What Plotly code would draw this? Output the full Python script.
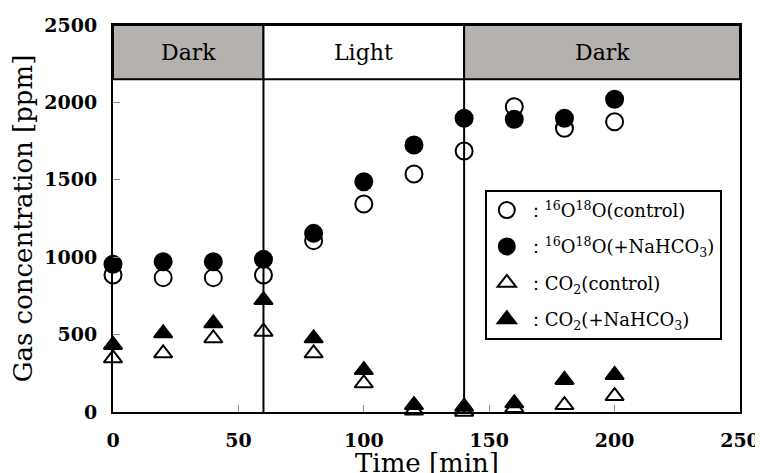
import plotly.graph_objects as go

time_min = [0, 20, 40, 60, 80, 100, 120, 140, 160, 180, 200]
o2_control = [885, 868, 868, 885, 1107, 1344, 1537, 1686, 1972, 1833, 1875]
o2_nahco3 = [954, 971, 971, 986, 1154, 1488, 1725, 1897, 1891, 1897, 2020]
co2_control = [347, 379, 476, 519, 379, 185, 10, 2, 26, 45, 103]
co2_nahco3 = [433, 508, 573, 723, 476, 271, 45, 34, 56, 207, 239]

phase_labels = ["Dark", "Light", "Dark"]
phase_starts = [0, 60, 140]
phase_ends = [60, 140, 250]
phase_fill = ["#b4b1af", "#ffffff", "#b4b1af"]

x_ticks = [0, 50, 100, 150, 200, 250]
y_ticks = [0, 500, 1000, 1500, 2000, 2500]

FONT = "DejaVu Serif"

fig = go.Figure()

series = [
    ("：<sup>16</sup>O<sup>18</sup>O(control)", o2_control, "circle-open"),
    ("：<sup>16</sup>O<sup>18</sup>O(+NaHCO<sub>3</sub>)", o2_nahco3, "circle"),
    ("：CO<sub>2</sub>(control)", co2_control, "triangle-up-open"),
    ("：CO<sub>2</sub>(+NaHCO<sub>3</sub>)", co2_nahco3, "triangle-up"),
]
for i, (name, vals, sym) in enumerate(series):
    fig.add_trace(go.Scatter(
        x=time_min, y=vals, mode="markers", name=name,
        legendgroup=f"g{i}", cliponaxis=False,
        marker=dict(symbol=sym, size=17 if "circle" in sym else 16,
                    color="black", line=dict(color="black", width=2)),
    ))

# phase bands
for lab, x0, x1, col in zip(phase_labels, phase_starts, phase_ends, phase_fill):
    fig.add_shape(type="rect", xref="x", yref="y", x0=x0, x1=x1, y0=2150, y1=2500,
                  fillcolor=col, line=dict(color="black", width=2), layer="below")
    fig.add_annotation(x=(x0 + x1) / 2, y=2325, text=lab, showarrow=False,
                       font=dict(family=FONT, size=22, color="black"))

for xv in phase_starts[1:]:
    fig.add_shape(type="line", xref="x", yref="y", x0=xv, x1=xv, y0=0, y1=2150,
                  line=dict(color="black", width=2), layer="below")

# x-axis title (placed as annotation so it sits close to the tick labels)
fig.add_annotation(x=0.5, y=-0.088, xref="paper", yref="paper", xanchor="center",
                   yanchor="top", text="Time [min]", showarrow=False,
                   font=dict(family=FONT, size=26, color="black"))

tick_font = dict(family=FONT, size=19, color="black", weight="bold")

fig.update_xaxes(
    range=[0, 250], tickvals=x_ticks, ticktext=[str(v) for v in x_ticks],
    showline=True, mirror=True, linecolor="black", linewidth=2,
    ticks="inside", ticklen=7, tickcolor="#888", tickwidth=1,
    showgrid=False, zeroline=False, automargin=False,
    tickfont=tick_font,
    ticklabelstandoff=10,
)
fig.update_yaxes(
    range=[0, 2500], tickvals=y_ticks, ticktext=[str(v) for v in y_ticks],
    showline=True, mirror=True, linecolor="black", linewidth=2,
    ticks="inside", ticklen=7, tickcolor="#888", tickwidth=1,
    showgrid=False, zeroline=False, automargin=False,
    tickfont=tick_font,
    ticklabelstandoff=10,
    title=dict(text="Gas concentration [ppm]", font=dict(family=FONT, size=26, color="black"), standoff=8),
)

fig.update_layout(
    width=755, height=465,
    margin=dict(l=105, r=23, t=17, b=61),
    paper_bgcolor="white", plot_bgcolor="white",
    showlegend=True,
    legend=dict(x=0.593, y=0.574, xanchor="left", yanchor="top",
                bgcolor="white", bordercolor="black", borderwidth=2,
                font=dict(family=FONT, size=18, color="black"),
                tracegroupgap=10, itemwidth=30),
)

fig.write_html("out.html")
